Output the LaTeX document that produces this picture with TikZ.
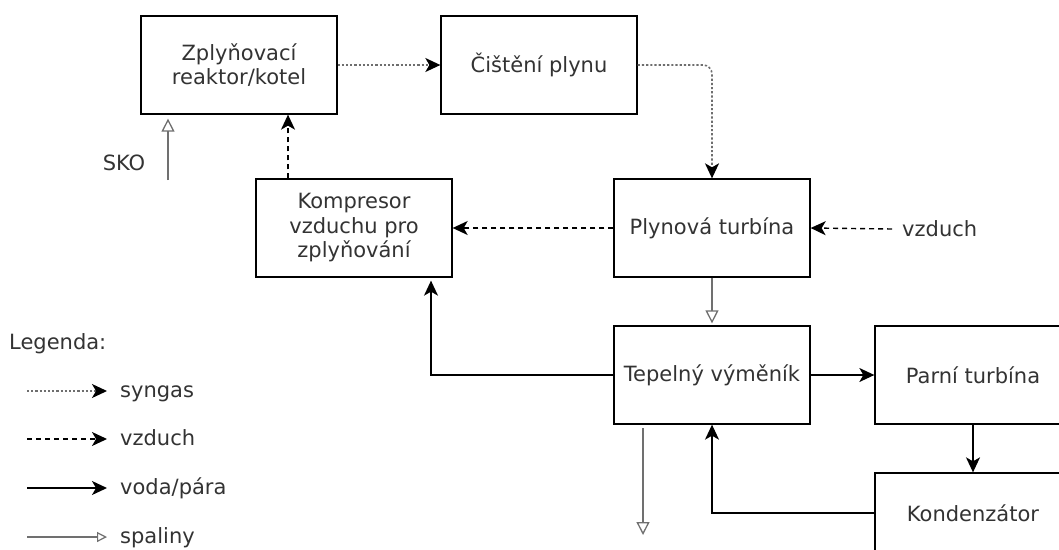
\documentclass[tikz,border=0pt]{standalone}
\usepackage{fontspec}
\setmainfont{DejaVu Sans}
\usetikzlibrary{arrows.meta}
\definecolor{txt}{HTML}{333333}
\definecolor{gline}{HTML}{6E6E6E}
\definecolor{fline}{HTML}{707070}
\tikzset{
  box/.style={draw=black, line width=1.3pt, minimum width=196pt, minimum height=98pt, align=center, text=txt, inner sep=0pt},
  lbl/.style={text=txt, inner sep=0pt},
  blacktip/.style={-{Stealth[length=15pt,width=14pt,inset=4pt,color=black]}},
  syngas/.style={blacktip, draw=gline, line width=1.6pt, dash pattern=on 2.2pt off 2pt},
  airflow/.style={blacktip, draw=black, line width=1.4pt, dash pattern=on 5pt off 4pt},
  water/.style={blacktip, draw=black, line width=1.5pt},
  flue/.style={-{Triangle[open,length=13pt,width=13pt,line width=1.3pt]}, draw=fline, line width=1.2pt}
}
\begin{document}
\begin{tikzpicture}[x=1pt,y=-1pt,font=\fontsize{21}{24.5}\selectfont]
\useasboundingbox (0,0) rectangle (1059,549);
\clip (0,0) rectangle (1059,549);
\fill[white] (0,0) rectangle (1059,549);
% boxes
\node[box] (zply) at (239,65) {Zplyňovací\\reaktor/kotel};
\node[box] (cist) at (539,65) {Čištění plynu};
\node[box] (plyn) at (712,228) {Plynová turbína};
\node[box] (komp) at (354,228) {Kompresor\\vzduchu pro\\zplyňování};
\node[box] (tep) at (712,375) {Tepelný výměník};
\node[box] (parni) at (973,375) {Parní turbína};
\node[box, minimum height=80pt] (kond) at (973,513) {Kondenzátor};
% free labels
\node[lbl] (sko) at (124,163) {SKO};
\node[lbl, anchor=west] (vz) at (902,229) {vzduch};
\coordinate (skoS) at (168,180);
\coordinate (exA) at (643,428);
\coordinate (exB) at (643,535);
% connectors
\draw[syngas] (zply.east) -- (cist.west);
\draw[syngas, rounded corners=9pt] (cist.east) -| (plyn.north);
\draw[airflow] ([xshift=-10pt]vz.west) -- (plyn.east);
\draw[airflow] (plyn.west) -- (komp.east);
\draw[airflow] ([xshift=-66pt]komp.north) -- ([xshift=-66pt]komp.north |- zply.south);
\draw[flue, shorten >=4pt] (skoS) -- (skoS |- zply.south);
\draw[flue, shorten >=2pt] (plyn.south) -- (tep.north);
\draw[water, shorten >=3pt] (tep.west) -| ([xshift=77pt]komp.south);
\draw[water] (tep.east) -- (parni.west);
\draw[water] (parni.south) -- (kond.north);
\draw[water] (kond.west) -| (tep.south);
\draw[flue] (exA) -- (exB);
% legend
\node[lbl, anchor=west] (leg) at (9,344) {Legenda:};
\coordinate (l1a) at (27,391); \coordinate (l1b) at (107,391);
\coordinate (l2a) at (27,439); \coordinate (l2b) at (107,439);
\coordinate (l3a) at (27,488); \coordinate (l3b) at (107,488);
\coordinate (l4a) at (27,537); \coordinate (l4b) at (107,537);
\draw[syngas] (l1a) -- (l1b);
\draw[airflow] (l2a) -- (l2b);
\draw[water] (l3a) -- (l3b);
\draw[flue, -{Triangle[open,length=10pt,width=10pt,line width=1.2pt]}] (l4a) -- (l4b);
\node[lbl, anchor=base west] (t1) at (120,397) {syngas};
\node[lbl, anchor=base west] (t2) at (120,445) {vzduch};
\node[lbl, anchor=base west] (t3) at (120,494) {voda/pára};
\node[lbl, anchor=base west] (t4) at (120,543) {spaliny};
\end{tikzpicture}
\end{document}
